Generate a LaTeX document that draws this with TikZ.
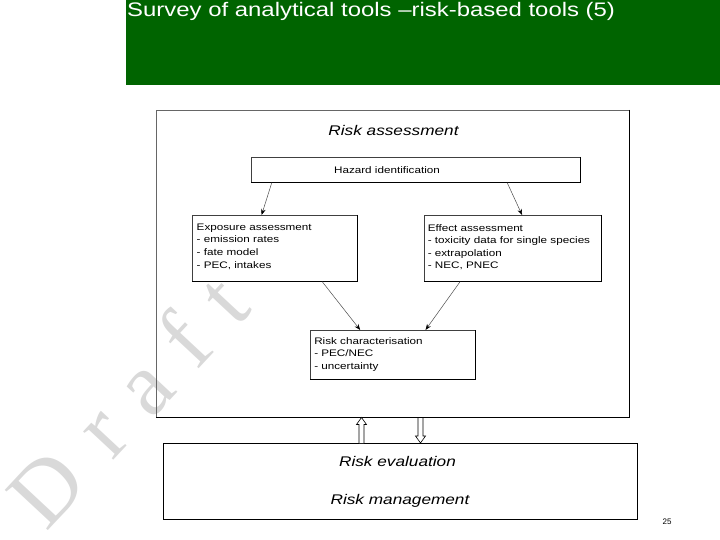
\documentclass[tikz,border=0pt]{standalone}
\usepackage{fontspec}
\newfontfamily\sansf{Liberation Sans}
\newfontfamily\wmfont{Liberation Serif}
\usetikzlibrary{calc,arrows.meta}
\definecolor{hdrgreen}{RGB}{0,100,0}
\begin{document}
\begin{tikzpicture}[x=1pt,y=-1pt,
  boxst/.style={draw=black!75, line width=0.7pt, fill=white, inner sep=0pt, anchor=north west},
  shadowline/.style={draw=black, line width=1.3pt},
  txt/.style={font=\sansf\fontsize{9.5}{11}\selectfont, xscale=1.23, anchor=base west, inner sep=0pt},
  ttl/.style={font=\sansf\itshape\fontsize{14}{16}\selectfont, xscale=1.23, anchor=base, inner sep=0pt},
  arr/.style={draw=black!70, line width=0.5pt, -{Stealth[length=6pt,width=4.5pt,black]}},
  hollow/.style={draw=black, line width=0.6pt, fill=white},
  wm/.style={font=\wmfont\fontsize{90}{90}\selectfont, text=black!15, rotate=47, inner sep=0pt, anchor=base west}]
\useasboundingbox (0,0) rectangle (720,540);
% watermark
\node[wm] (wm) at (46.7,532.3) {D\hspace{32pt}r\hspace{26pt}a\hspace{27pt}f\hspace{28pt}t};
% header
\fill[hdrgreen] (126,0) rectangle (720,85);
\node[font=\sansf\fontsize{19.6}{22}\selectfont, xscale=1.22, text=white, anchor=base west, inner sep=0pt] (title) at (127,17) {Survey of analytical tools –risk-based tools (5)};
% outer box
\node[draw=black!60, line width=0.7pt, inner sep=0pt, anchor=north west, minimum width=473pt, minimum height=307pt] (outer) at (156,110) {};
\draw[shadowline] (outer.north east) -- (outer.south east) -- (outer.south west);
\node[ttl] (ratitle) at (393.5,135.5) {Risk assessment};
% hazard
\node[boxst, minimum width=329pt, minimum height=25pt] (haz) at (251,157) {};
\draw[shadowline] (haz.north east) -- (haz.south east) -- (haz.south west);
\node[txt, anchor=base] (haztxt) at (387,174) {Hazard identification};
% exposure
\node[boxst, minimum width=165pt, minimum height=66pt] (exp) at (192,215) {};
\draw[shadowline] (exp.north east) -- (exp.south east) -- (exp.south west);
\node[txt] (exp1) at (196.5,230) {Exposure assessment};
\node[txt] (exp2) at (196.5,242.8) {- emission rates};
\node[txt] (exp3) at (196.5,255.6) {- fate model};
\node[txt] (exp4) at (196.5,268.4) {- PEC, intakes};
% effect
\node[boxst, minimum width=177pt, minimum height=66pt] (eff) at (424,215) {};
\draw[shadowline] (eff.north east) -- (eff.south east) -- (eff.south west);
\node[txt] (eff1) at (427.5,231) {Effect assessment};
\node[txt] (eff2) at (427.5,243.6) {- toxicity data for single species};
\node[txt] (eff3) at (427.5,256.2) {- extrapolation};
\node[txt] (eff4) at (427.5,268.8) {- NEC, PNEC};
% risk characterisation
\node[boxst, minimum width=165pt, minimum height=49pt] (rc) at (310,330) {};
\draw[shadowline] (rc.north east) -- (rc.south east) -- (rc.south west);
\node[txt] (rc1) at (314,344) {Risk characterisation};
\node[txt] (rc2) at (314,356.5) {- PEC/NEC};
\node[txt] (rc3) at (314,369) {- uncertainty};
% arrows
\draw[arr] ($(haz.south west)!0.063!(haz.south east)$) -- ($(exp.north west)!0.42!(exp.north east)$);
\draw[arr] ($(haz.south west)!0.777!(haz.south east)$) -- ($(eff.north west)!0.552!(eff.north east)$);
\draw[arr] ($(exp.south west)!0.786!(exp.south east)$) -- ($(rc.north west)!0.303!(rc.north east)$);
\draw[arr] ($(eff.south west)!0.203!(eff.south east)$) -- ($(rc.north west)!0.697!(rc.north east)$);
% lower box
\node[draw=black, line width=0.8pt, inner sep=0pt, anchor=north west, minimum width=474pt, minimum height=76pt] (low) at (163,443) {};
\node[ttl] (reval) at (397.5,466) {Risk evaluation};
\node[ttl] (rman) at (400,504) {Risk management};
% hollow arrows
\coordinate (ub) at (361.5,443);
\coordinate (ut) at (361.5,417.5);
\draw[hollow] ($(ub)+(-2.5,0)$) -- ($(ut)+(-2.5,7)$) -- ($(ut)+(-5,7)$) -- (ut) -- ($(ut)+(5,7)$) -- ($(ut)+(2.5,7)$) -- ($(ub)+(2.5,0)$);
\coordinate (db) at (420.5,418);
\coordinate (dt) at (420.5,443);
\draw[hollow] ($(db)+(-2.5,0)$) -- ($(dt)+(-2.5,-7)$) -- ($(dt)+(-5,-7)$) -- (dt) -- ($(dt)+(5,-7)$) -- ($(dt)+(2.5,-7)$) -- ($(db)+(2.5,0)$);
% page number
\node[font=\sansf\fontsize{8}{9}\selectfont, anchor=base, inner sep=0pt] (pg) at (667,524) {25};
\end{tikzpicture}
\end{document}
